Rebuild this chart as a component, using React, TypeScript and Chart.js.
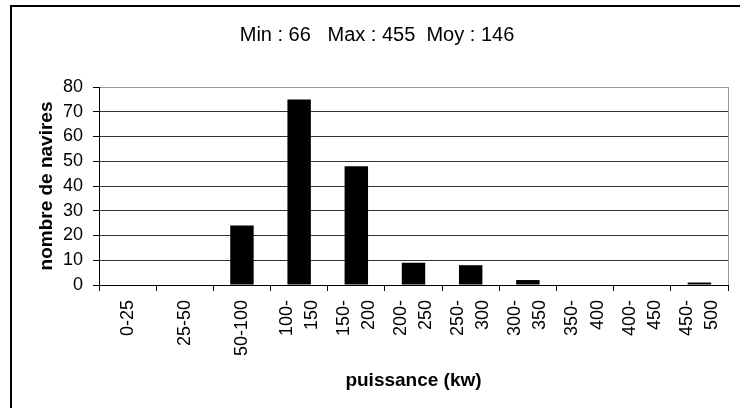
import React, { useEffect, useRef } from 'react';
import { Chart, registerables } from 'chart.js';

Chart.register(...registerables);

const categories: (string | string[])[] = [
  '0-25',
  '25-50',
  '50-100',
  ['100-', '150'],
  ['150-', '200'],
  ['200-', '250'],
  ['250-', '300'],
  ['300-', '350'],
  ['350-', '400'],
  ['400-', '450'],
  ['450-', '500'],
];
const counts = [0, 0, 24, 75, 48, 9, 8, 2, 0, 0, 1];
const yMin = 0;
const yMax = 80;
const yStep = 10;
const chartTitle = 'Min : 66   Max : 455  Moy : 146';
const xTitle = 'puissance (kw)';
const yTitle = 'nombre de navires';

const FONT = "'Liberation Sans', Arial, Helvetica, sans-serif";

const framePlugin = {
  id: 'plotFrame',
  beforeDraw(chart: any) {
    const xs = chart.scales.x;
    if (!xs || typeof xs.getLabelItems !== 'function') return;
    const items = xs.getLabelItems();
    (items || []).forEach((it: any) => {
      if (
        !it._centered &&
        Array.isArray(it.label) &&
        it.label.length > 1 &&
        it.options &&
        Array.isArray(it.options.translation)
      ) {
        const lh = it.font && it.font.lineHeight ? it.font.lineHeight : 25;
        it.options.translation[0] -= ((it.label.length - 1) * lh) / 2;
        it._centered = true;
      }
    });
  },
  afterDraw(chart: any) {
    const { ctx, chartArea } = chart;
    const x = Math.round(chartArea.right) + 0.5;
    ctx.save();
    ctx.strokeStyle = '#999';
    ctx.lineWidth = 1;
    ctx.beginPath();
    ctx.moveTo(x, Math.round(chartArea.top));
    ctx.lineTo(x, Math.round(chartArea.bottom));
    ctx.stroke();
    ctx.restore();
  },
};

export default function App() {
  const ref = useRef<HTMLCanvasElement>(null);

  useEffect(() => {
    if (!ref.current) return;
    Chart.defaults.font.family = FONT;
    Chart.defaults.color = '#000';
    const chart = new Chart(ref.current, {
      type: 'bar',
      data: {
        labels: categories,
        datasets: [
          {
            data: counts,
            backgroundColor: '#000',
            borderWidth: 0,
            barPercentage: 0.41,
            categoryPercentage: 1,
          },
        ],
      },
      options: {
        responsive: false,
        animation: false,
        devicePixelRatio: 1,
        layout: { padding: { left: 26, right: 12, top: 0, bottom: 0 } },
        plugins: {
          legend: { display: false },
          tooltip: { enabled: false },
          title: {
            display: true,
            text: chartTitle,
            color: '#000',
            font: { size: 20, weight: 'normal', family: FONT },
            padding: { top: 23, bottom: 40 },
          },
        },
        scales: {
          x: {
            grid: {
              display: true,
              drawOnChartArea: false,
              drawTicks: true,
              tickLength: 6,
              tickColor: '#000',
              offset: true,
            },
            border: { color: '#000', width: 1 },
            ticks: {
              color: '#000',
              font: { size: 18, lineHeight: 1.4, family: FONT },
              minRotation: 90,
              maxRotation: 90,
              autoSkip: false,
              padding: 9,
            },
            title: {
              display: true,
              text: xTitle,
              color: '#000',
              font: { size: 19, weight: 'bold', family: FONT },
              padding: { top: 0, bottom: 16 },
            },
            afterFit: (s: any) => {
              s.height = 123;
              s.paddingLeft = 0;
              s.paddingRight = 0;
            },
          },
          y: {
            min: yMin,
            max: yMax,
            grid: {
              color: (c: any) => (c.tick && c.tick.value === yMax ? '#999' : '#333'),
              tickLength: 6,
              tickColor: '#000',
            },
            border: { color: '#000', width: 1 },
            ticks: {
              stepSize: yStep,
              color: '#000',
              font: { size: 18, family: FONT },
              padding: 10,
            },
            title: {
              display: true,
              text: yTitle,
              color: '#000',
              font: { size: 19, weight: 'bold', family: FONT },
              padding: { top: 9, bottom: 0 },
            },
            afterFit: (s: any) => {
              s.width = 73;
              s.paddingTop = 0;
              s.paddingBottom = 0;
            },
          },
        },
      },
      plugins: [framePlugin],
    } as any);
    return () => chart.destroy();
  }, []);

  return (
    <div
      style={{
        position: 'fixed',
        left: 0,
        top: 0,
        width: 740,
        height: 408,
        background: '#fff',
        overflow: 'hidden',
      }}
    >
      <div
        style={{
          position: 'absolute',
          left: 10,
          top: 5,
          width: 800,
          height: 500,
          borderLeft: '2px solid #000',
          borderTop: '2px solid #000',
          pointerEvents: 'none',
        }}
      />
      <canvas
        ref={ref}
        width={740}
        height={408}
        style={{ position: 'absolute', left: 0, top: 0, width: 740, height: 408 }}
      />
    </div>
  );
}
